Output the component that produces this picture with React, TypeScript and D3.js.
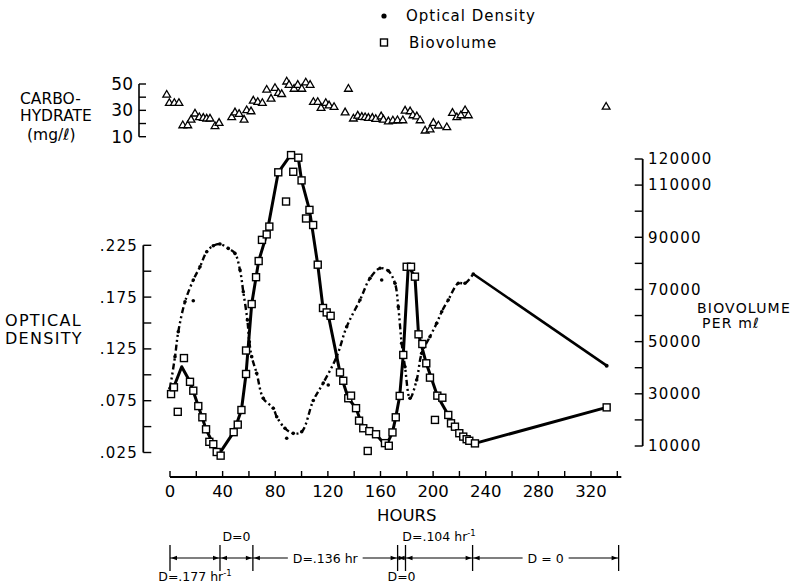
import React from "react";
import * as d3 from "d3";

// ---------- axis ticks ----------
const hourTicks = [0, 20, 40, 60, 80, 100, 120, 140, 160, 180, 200, 220, 240, 260, 280, 300, 320, 340];
const hourLabels = [0, 40, 80, 120, 160, 200, 240, 280, 320];
const odTicks = [0.025, 0.05, 0.075, 0.1, 0.125, 0.15, 0.175, 0.2, 0.225];
const odLabels = [0.025, 0.075, 0.125, 0.175, 0.225];
const bvTicks = [10000, 20000, 30000, 40000, 50000, 60000, 70000, 80000, 90000, 100000, 110000, 120000];
const bvLabels = [10000, 30000, 50000, 70000, 90000, 110000, 120000];
const carbTicks = [10, 20, 30, 40, 50];
const carbLabels = [10, 30, 50];

// ---------- data: [hour, value] ----------
const carbohydrate: [number, number][] = [
  [-2.5, 41.7], [-0.5, 35.4], [3.3, 35.4], [6.8, 35.4], [9.7, 18.5], [13.5, 18.5], [16, 22.8], [19, 27.4],
  [22.3, 24.6], [25.3, 24.1], [27.9, 23.6], [30.4, 23.6], [34.2, 17.8], [37.3, 20.3], [46.9, 24.6], [49.4, 28.3],
  [52.5, 27.1], [56.3, 22.8], [58.3, 29.9], [61.6, 29.1], [63.3, 37.2], [66.7, 36.2], [70.2, 35.4], [73.5, 45.5],
  [76.8, 38.7], [79.8, 46.8], [82.4, 43.0], [84.9, 42.2], [88.7, 51.7], [90.5, 49.2], [94.3, 46.2], [97.1, 49.2],
  [100.2, 46.2], [103.2, 51.0], [106.5, 49.2], [109, 36.2], [112.3, 36.2], [114.8, 31.7], [118.4, 35.4], [120.9, 33.6],
  [124.7, 32.4], [133.1, 28.3], [135.6, 46.2], [139.4, 23.6], [142.7, 25.8], [145.8, 24.9], [148.3, 24.6], [150.8, 24.1],
  [153.8, 24.1], [156.4, 23.3], [160.5, 25.3], [162.2, 22.8], [166, 21.5], [169.4, 22.1], [172.9, 22.3], [177, 22.3],
  [178.7, 29.6], [182.5, 29.1], [184.6, 26.1], [187.6, 25.3], [190.1, 22.3], [193.9, 14.5], [197.7, 15.3], [200.2, 20.3],
  [204, 18.3], [210.4, 17.0], [214.7, 27.9], [218, 24.6], [221.1, 26.1], [224.3, 29.9], [226.8, 26.1], [331.5, 32.6],
];

const biovolume: [number, number][] = [
  [0.8, 29900], [3.0, 32500], [5.9, 23100], [10.6, 43700], [15.2, 34600], [17.7, 31200], [21.5, 25300], [24.6, 21000],
  [27.4, 16400], [29.9, 11600], [32.9, 10700], [35.5, 7700], [38.5, 6300], [48.4, 15300], [51.5, 18200], [54.3, 23800],
  [57.8, 37600], [57.8, 46600], [62.1, 64400], [65.4, 74700], [67.4, 80900], [69.9, 89000], [73.5, 91100], [75.5, 94100],
  [82.3, 114900], [88.2, 103700], [92.0, 121500], [93.7, 115100], [97.5, 120500], [100.0, 111800], [103.4, 97200], [106.0, 100500],
  [108.8, 94700], [112.3, 79500], [116.3, 62900], [119.1, 61200], [122.1, 59900], [129.2, 38200], [131.7, 35000], [135.5, 28300],
  [137.6, 29300], [141.4, 24500], [143.7, 19700], [146.9, 16800], [150.3, 8100], [151.5, 15700], [156.6, 14500], [163.4, 11100],
  [166.3, 10100], [169.1, 15200], [171.6, 21000], [174.6, 29200], [177.3, 44900], [179.9, 78700], [183.2, 78700], [186.2, 74900],
  [188.9, 52800], [191.8, 49100], [194.8, 41700], [197.6, 36200], [201.4, 20000], [203.2, 29300], [207.0, 28500], [211.5, 21900],
  [213.6, 18700], [216.6, 17400], [219.9, 14900], [222.9, 13600], [225.5, 12600], [227.5, 12000], [231.8, 11000], [331.9, 24800],
];

// hand-drawn biovolume trend line
const biovolumeTrend: [number, number][] = [
  [0.8, 29900], [8.9, 40400], [15.2, 34600], [21.5, 25300], [27.4, 16400], [32.9, 10700], [36.9, 6600], [48.4, 15300],
  [54.3, 23800], [57.8, 37600], [62.1, 64400], [67.4, 80900], [73.5, 91100], [82.3, 114900], [91.6, 121500], [97.5, 120500],
  [100.0, 111800], [106.0, 100500], [112.3, 79500], [116.3, 62900], [121.0, 58500], [129.2, 38200], [135.5, 28300],
  [141.4, 24500], [146.9, 16800], [156.6, 14500], [164.2, 10000], [169.1, 15200], [171.6, 21000], [174.6, 29200],
  [177.3, 44900], [181.1, 79000], [186.2, 74900], [188.9, 52800], [194.8, 41700], [203.2, 29300], [211.5, 21900],
  [219.9, 14900], [227.5, 12000], [231.8, 11000], [331.9, 24800],
];

const opticalDensity: [number, number][] = [
  [0, 0.087], [3.8, 0.1175], [6.3, 0.1416], [11.4, 0.1705], [17.7, 0.1915], [22.8, 0.2043], [27.9, 0.2188], [32.9, 0.2246],
  [38.0, 0.2262], [44.3, 0.222], [49.4, 0.2172], [53.2, 0.2011], [55.7, 0.1802], [58.8, 0.1529], [60.3, 0.1319], [62.1, 0.1175],
  [65.9, 0.1014], [70.9, 0.0773], [78.5, 0.0677], [81.1, 0.0595], [87.4, 0.0484], [93.7, 0.0435], [100.1, 0.0451], [108.9, 0.0752],
  [116.5, 0.0921], [126.7, 0.1175], [134.3, 0.1464], [144.4, 0.1722], [152, 0.1931], [159.6, 0.2028], [165.9, 0.2004], [171, 0.1883],
  [173.5, 0.1657], [176.1, 0.1304], [178.6, 0.1078], [182.4, 0.0773], [187.5, 0.095], [191.3, 0.1207], [197.6, 0.1368], [202.7, 0.1497],
  [206.5, 0.1609], [211.5, 0.1722], [219.1, 0.1883], [224.2, 0.1883], [230.5, 0.1973],
];
const opticalDensityStray: [number, number][] = [
  [17.7, 0.1715], [88.7, 0.0387], [120.3, 0.0901], [160.9, 0.1915],
];
const opticalDensityLate: [number, number][] = [[230.5, 0.1973], [331.9, 0.1088]];

// dilution phases (hours)
const phaseBounds = [0, 38, 63, 173, 179, 230, 341];
const phaseText = ["D=.177 hr", "D=0", "D=.136 hr", "D=0", "D=.104 hr", "D = 0"];
const phaseSup = ["-1", "", "", "", "-1", ""];
const phasePlace = ["below", "above", "inline", "below", "above", "inline"];

const FONT = "DejaVu Sans, Verdana, sans-serif";

export default function App() {
  const x = d3.scaleLinear().domain([0, 320]).range([170, 591]);
  const yOD = d3.scaleLinear().domain([0.025, 0.225]).range([452.5, 245.3]);
  const yBV = d3.scaleLinear().domain([10000, 120000]).range([446, 159]);
  const yC = d3.scaleLinear().domain([10, 50]).range([136.7, 84]);

  const odLine = d3.line<[number, number]>()
    .x((d) => x(d[0])).y((d) => yOD(d[1]))
    .curve(d3.curveCatmullRom.alpha(0.5));
  const odLateLine = d3.line<[number, number]>().x((d) => x(d[0])).y((d) => yOD(d[1]));
  const bvLine = d3.line<[number, number]>().x((d) => x(d[0])).y((d) => yBV(d[1]));
  const tri = d3.symbol().type(d3.symbolTriangle).size(26)();

  const leftX = 143.3;
  const rightX = 642.7;
  const axisY = 477;
  const carbX = 139;
  const phaseY = 558;

  const fmtOD = (v: number) => v.toFixed(3).replace(/^0/, "");

  return (
    <svg width={807} height={584} style={{ position: "absolute", left: 0, top: 0, background: "#fff" }} fontFamily={FONT}>
      <rect x={0} y={0} width={807} height={584} fill="#fff" />

      {/* legend */}
      <circle cx={384} cy={16} r={2.6} fill="#000" />
      <text x={406} y={21} fontSize={15} letterSpacing={1}>Optical Density</text>
      <rect x={380.5} y={39} width={7} height={7} fill="#fff" stroke="#000" strokeWidth={1.4} />
      <text x={409} y={48} fontSize={15} letterSpacing={1}>Biovolume</text>

      {/* carbohydrate panel */}
      <text x={20} y={104} fontSize={15.5}>CARBO-</text>
      <text x={20} y={121} fontSize={15.5}>HYDRATE</text>
      <text x={27} y={140} fontSize={15.5}>(mg/ℓ)</text>
      <line x1={carbX} x2={carbX} y1={yC(50)} y2={yC(10)} stroke="#000" strokeWidth={1.6} />
      {carbTicks.map((t) => (
        <line key={"ct" + t} x1={carbX} x2={carbX + 7} y1={yC(t)} y2={yC(t)} stroke="#000" strokeWidth={1.4} />
      ))}
      {carbLabels.map((t) => (
        <text key={"cl" + t} x={133} y={yC(t)} dy="0.36em" textAnchor="end" fontSize={17}>{t}</text>
      ))}
      {carbohydrate.map((d, i) => (
        <path key={"c" + i} d={tri} transform={`translate(${x(d[0])},${yC(d[1])})`} fill="#fff" stroke="#000" strokeWidth={1.3} />
      ))}

      {/* left axis: optical density */}
      <line x1={leftX} x2={leftX} y1={yOD(0.225)} y2={yOD(0.025)} stroke="#000" strokeWidth={1.8} />
      {odTicks.map((t) => (
        <line key={"ot" + t} x1={leftX} x2={leftX + 8} y1={yOD(t)} y2={yOD(t)} stroke="#000" strokeWidth={1.4} />
      ))}
      {odLabels.map((t) => (
        <text key={"ol" + t} x={138} y={yOD(t)} dy="0.36em" textAnchor="end" fontSize={15} letterSpacing={1.2}>{fmtOD(t)}</text>
      ))}
      <text x={5} y={326} fontSize={16} letterSpacing={1.3}>OPTICAL</text>
      <text x={5} y={344} fontSize={16} letterSpacing={1.3}>DENSITY</text>

      {/* right axis: biovolume */}
      <line x1={rightX} x2={rightX} y1={yBV(120000)} y2={yBV(10000)} stroke="#000" strokeWidth={1.8} />
      {bvTicks.map((t) => (
        <line key={"bt" + t} x1={rightX - 8} x2={rightX} y1={yBV(t)} y2={yBV(t)} stroke="#000" strokeWidth={1.4} />
      ))}
      {bvLabels.map((t) => (
        <text key={"bl" + t} x={648} y={yBV(t)} dy="0.36em" fontSize={15} letterSpacing={1.2}>{t}</text>
      ))}
      <text x={697} y={313} fontSize={14} letterSpacing={1.2}>BIOVOLUME</text>
      <text x={702} y={328} fontSize={14} letterSpacing={1.2}>PER mℓ</text>

      {/* x axis */}
      <line x1={x(0)} x2={x(340) + 4} y1={axisY} y2={axisY} stroke="#000" strokeWidth={1.8} />
      {hourTicks.map((t) => (
        <line key={"ht" + t} x1={x(t)} x2={x(t)} y1={axisY} y2={axisY - 6} stroke="#000" strokeWidth={1.4} />
      ))}
      {hourLabels.map((t) => (
        <text key={"hl" + t} x={x(t)} y={497} textAnchor="middle" fontSize={16.5}>{t}</text>
      ))}
      <text x={x(180)} y={521} textAnchor="middle" fontSize={16.5}>HOURS</text>

      {/* optical density: dash-dot curve with points */}
      <path d={odLine(opticalDensity) || ""} fill="none" stroke="#000" strokeWidth={2.4} strokeDasharray="6 3 2 3 2 3" />
      {opticalDensity.map((d, i) => (
        <circle key={"od" + i} cx={x(d[0])} cy={yOD(d[1])} r={1.8} fill="#000" />
      ))}
      {opticalDensityStray.map((d, i) => (
        <circle key={"ods" + i} cx={x(d[0])} cy={yOD(d[1])} r={1.8} fill="#000" />
      ))}
      <path d={odLateLine(opticalDensityLate) || ""} fill="none" stroke="#000" strokeWidth={2.6} />
      <circle cx={x(opticalDensityLate[1][0])} cy={yOD(opticalDensityLate[1][1])} r={2} fill="#000" />

      {/* biovolume trend + squares */}
      <path d={bvLine(biovolumeTrend) || ""} fill="none" stroke="#000" strokeWidth={3} strokeLinejoin="round" />
      {biovolume.map((d, i) => (
        <rect key={"bv" + i} x={x(d[0]) - 3.5} y={yBV(d[1]) - 3.5} width={7} height={7} fill="#fff" stroke="#000" strokeWidth={1.4} />
      ))}

      {/* dilution-rate phases */}
      {phaseBounds.slice(0, -1).map((b, i) => {
        const a = x(b);
        const c = x(phaseBounds[i + 1]);
        return (
          <g key={"ph" + i}>
            <line x1={a} x2={c} y1={phaseY} y2={phaseY} stroke="#000" strokeWidth={1.2} />
            <path d={`M${a + 1},${phaseY} l6,-2.2 l0,4.4 Z`} fill="#000" />
            <path d={`M${c - 1},${phaseY} l-6,-2.2 l0,4.4 Z`} fill="#000" />
          </g>
        );
      })}
      {phaseBounds.map((b, i) => (
        <line key={"pb" + i} x1={x(b)} x2={x(b)} y1={phaseY - 13} y2={phaseY + 13} stroke="#000" strokeWidth={1.3} />
      ))}
      {phaseText.map((t, i) => {
        const mid = x((phaseBounds[i] + phaseBounds[i + 1]) / 2);
        const place = phasePlace[i];
        const y = place === "below" ? 581 : place === "above" ? 541 : phaseY + 4.5;
        const w = t.length * 7.2 + 10;
        return (
          <g key={"pt" + i}>
            {place === "inline" && <rect x={mid - w / 2} y={phaseY - 6} width={w} height={12} fill="#fff" />}
            <text x={mid} y={y} textAnchor="middle" fontSize={12.5}>
              {t}
              {phaseSup[i] && <tspan dy={-5} fontSize={8.5}>{phaseSup[i]}</tspan>}
            </text>
          </g>
        );
      })}
    </svg>
  );
}
